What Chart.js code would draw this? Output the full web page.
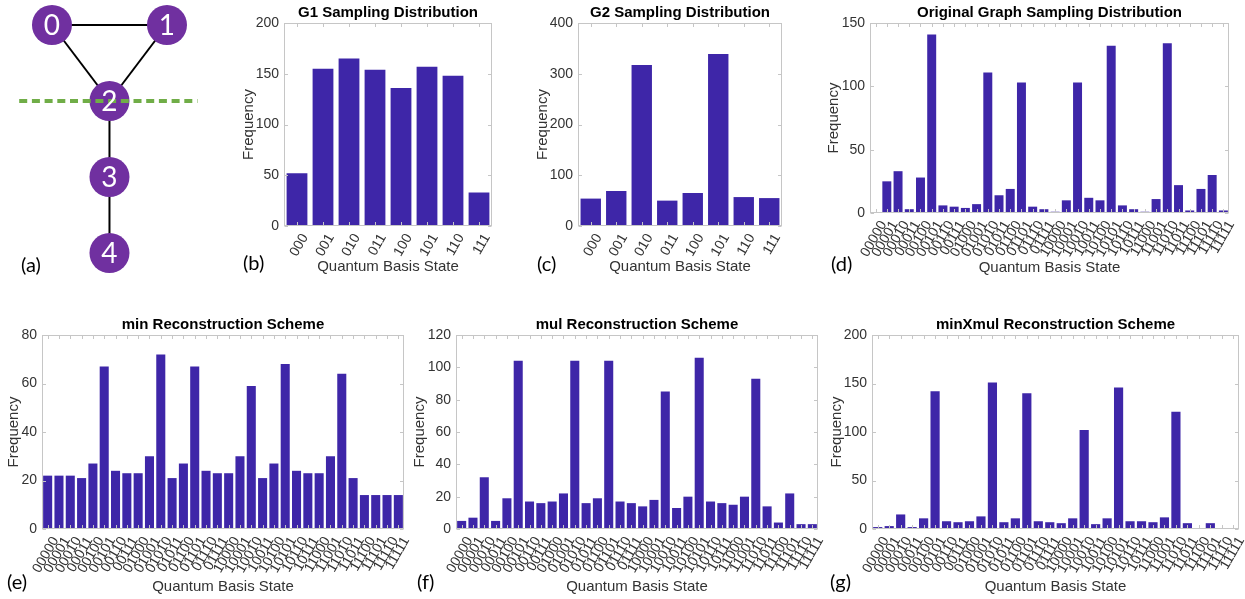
<!DOCTYPE html>
<html>
<head>
<meta charset="utf-8">
<script src="https://cdn.jsdelivr.net/npm/chart.js@4.4.1/dist/chart.umd.min.js"></script>
<style>
  html, body { margin: 0; padding: 0; background: #fff; }
  body { width: 1245px; height: 599px; position: relative; overflow: hidden; }
  canvas { position: absolute; }
  .tag { position: absolute; font-family: Lato, "Liberation Sans", sans-serif; font-size: 20px; line-height: 20px; color: #000; }
</style>
</head>
<body>
<canvas id="panelA" width="230" height="290" style="left:0;top:0"></canvas>
<canvas id="panelB" width="280" height="290" style="left:230px;top:0"></canvas>
<canvas id="panelC" width="285" height="290" style="left:515px;top:0"></canvas>
<canvas id="panelD" width="445" height="290" style="left:800px;top:0"></canvas>
<canvas id="panelE" width="415" height="299" style="left:0;top:300px"></canvas>
<canvas id="panelF" width="420" height="299" style="left:410px;top:300px"></canvas>
<canvas id="panelG" width="425" height="299" style="left:820px;top:300px"></canvas>

<div class="tag" style="left:21px;top:254px">(a)</div>
<div class="tag" style="left:243px;top:252px">(b)</div>
<div class="tag" style="left:537px;top:253px">(c)</div>
<div class="tag" style="left:831px;top:253px">(d)</div>
<div class="tag" style="left:7px;top:571px">(e)</div>
<div class="tag" style="left:417px;top:571px">(f)</div>
<div class="tag" style="left:830px;top:571px">(g)</div>

<script>
// ---- graph (a): node layout, edges and the cut line ----
const nodeNames = ['0', '1', '2', '3', '4'];
const nodeX = [-1, 1, 0, 0, 0];
const nodeY = [3, 3, 2, 1, 0];
const edges = [[0, 1], [0, 2], [1, 2], [2, 3], [3, 4]];
const cutX = [-1.57, 1.53];
const cutY = 2;

// ---- basis-state labels ----
const states3 = ['000', '001', '010', '011', '100', '101', '110', '111'];
const states5 = ['00000', '00001', '00010', '00011', '00100', '00101', '00110', '00111',
                 '01000', '01001', '01010', '01011', '01100', '01101', '01110', '01111',
                 '10000', '10001', '10010', '10011', '10100', '10101', '10110', '10111',
                 '11000', '11001', '11010', '11011', '11100', '11101', '11110', '11111'];

// ---- sampled frequencies ----
const g1Freq = [52, 155, 165, 154, 136, 157, 148, 33];
const g2Freq = [54, 69, 317, 50, 65, 339, 57, 55];
const originalFreq = [0, 25, 33, 3, 28, 141, 6, 5, 4, 7, 111, 14, 19, 103, 5, 3,
                      1, 10, 103, 12, 10, 132, 6, 3, 1, 11, 134, 22, 2, 19, 30, 2];
const minFreq = [22, 22, 22, 21, 27, 67, 24, 23, 23, 30, 72, 21, 27, 67, 24, 23,
                 23, 30, 59, 21, 27, 68, 24, 23, 23, 30, 64, 21, 14, 14, 14, 14];
const mulFreq = [5, 7, 32, 5, 19, 104, 17, 16, 17, 22, 104, 16, 19, 104, 17, 16,
                 14, 18, 85, 13, 20, 106, 17, 16, 15, 20, 93, 14, 4, 22, 3, 3];
const minXmulFreq = [2, 3, 15, 2, 11, 142, 8, 7, 8, 13, 151, 7, 11, 140, 8, 7,
                     6, 11, 102, 5, 11, 146, 8, 8, 7, 12, 121, 6, 1, 6, 1, 1];

// ---- y-axis ranges ----
const g1Axis = { max: 200, step: 50 };
const g2Axis = { max: 400, step: 100 };
const originalAxis = { max: 150, step: 50 };
const minAxis = { max: 80, step: 20 };
const mulAxis = { max: 120, step: 20 };
const minXmulAxis = { max: 200, step: 50 };

const FONT = "'Liberation Sans', Arial, Helvetica, sans-serif";
const BAR_COLOR = '#3E26A8';
const TEXT_COLOR = '#333333';
const BOX_COLOR = '#c6c6c6';

Chart.defaults.font.family = FONT;
Chart.defaults.animation = false;

// Axes box with inward ticks on all four sides
const axisBox = {
  id: 'axisBox',
  afterDatasetsDraw(chart) {
    const { ctx, chartArea: a, scales } = chart;
    const x = scales.x, y = scales.y;
    const L = Math.round(a.left) + 0.5, R = Math.round(a.right) - 0.5;
    const T = Math.round(a.top) + 0.5, B = Math.round(a.bottom) - 0.5;
    const len = 3.5;
    ctx.save();
    ctx.strokeStyle = BOX_COLOR;
    ctx.lineWidth = 1;
    ctx.strokeRect(L, T, R - L, B - T);
    ctx.beginPath();
    x.ticks.forEach((t, i) => {
      const px = Math.round(x.getPixelForTick(i)) + 0.5;
      ctx.moveTo(px, B); ctx.lineTo(px, B - len);
      ctx.moveTo(px, T); ctx.lineTo(px, T + len);
    });
    y.ticks.forEach(t => {
      const py = Math.round(y.getPixelForValue(t.value)) + 0.5;
      ctx.moveTo(L, py); ctx.lineTo(L + len, py);
      ctx.moveTo(R, py); ctx.lineTo(R - len, py);
    });
    ctx.stroke();
    ctx.restore();
  }
};

// Bar panel; box gives canvas frame, plot area and text anchor positions (page px)
function barPanel(id, labels, values, axis, title, box) {
  const half = 9; // half line height of 15px text
  const pl = box.yTitleX - half - box.cx;
  const pt = box.titleY - half - box.cy;
  const titlePadBottom = (box.t - box.cy) - pt - 18;
  const yWidth = box.l - box.cx - pl;
  const xHeight = (box.cy + box.ch) - box.b;
  const xTitlePad = (box.cy + box.ch) - half - box.xTitleY;
  const pr = (box.cx + box.cw) - box.r;

  new Chart(document.getElementById(id), {
    type: 'bar',
    data: {
      labels: labels,
      datasets: [{
        data: values,
        backgroundColor: BAR_COLOR,
        borderWidth: 0,
        barPercentage: 0.8,
        categoryPercentage: 1.0
      }]
    },
    options: {
      responsive: false,
      animation: false,
      layout: { padding: { left: pl, top: pt, right: pr, bottom: 0 } },
      plugins: {
        legend: { display: false },
        tooltip: { enabled: false },
        title: {
          display: true,
          text: title,
          fullSize: false,
          color: '#000',
          font: { size: 15, weight: 'bold', family: FONT, lineHeight: 1.2 },
          padding: { top: 0, bottom: titlePadBottom }
        }
      },
      scales: {
        x: {
          grid: { display: false, drawTicks: false },
          border: { display: false },
          ticks: {
            autoSkip: false,
            maxRotation: 60,
            minRotation: 60,
            padding: 5,
            labelOffset: 8,
            color: TEXT_COLOR,
            font: { size: 14, family: FONT }
          },
          title: {
            display: true,
            text: 'Quantum Basis State',
            color: TEXT_COLOR,
            font: { size: 15, family: FONT, lineHeight: 1.2 },
            padding: { top: 0, bottom: xTitlePad }
          },
          afterFit(s) { s.height = xHeight; s.paddingLeft = 0; s.paddingRight = 0; }
        },
        y: {
          min: 0,
          max: axis.max,
          grid: { display: false, drawTicks: false },
          border: { display: false },
          ticks: {
            stepSize: axis.step,
            padding: 5,
            color: TEXT_COLOR,
            font: { size: 14, family: FONT }
          },
          title: {
            display: true,
            text: 'Frequency',
            color: TEXT_COLOR,
            font: { size: 15, family: FONT, lineHeight: 1.2 },
            padding: { top: 0, bottom: 0 }
          },
          afterFit(s) { s.width = yWidth; s.paddingTop = 0; s.paddingBottom = 0; }
        }
      }
    },
    plugins: [axisBox]
  });
}

barPanel('panelB', states3, g1Freq, g1Axis, 'G1 Sampling Distribution',
  { cx: 230, cy: 0, cw: 280, ch: 290, l: 284, t: 23, r: 492, b: 226, yTitleX: 249, xTitleY: 267, titleY: 12.5 });
barPanel('panelC', states3, g2Freq, g2Axis, 'G2 Sampling Distribution',
  { cx: 515, cy: 0, cw: 285, ch: 290, l: 578, t: 23, r: 782, b: 226, yTitleX: 542.5, xTitleY: 267, titleY: 12.5 });
barPanel('panelD', states5, originalFreq, originalAxis, 'Original Graph Sampling Distribution',
  { cx: 800, cy: 0, cw: 445, ch: 290, l: 870, t: 23, r: 1229, b: 213, yTitleX: 834, xTitleY: 268, titleY: 12.5 });
barPanel('panelE', states5, minFreq, minAxis, 'min Reconstruction Scheme',
  { cx: 0, cy: 300, cw: 415, ch: 299, l: 42, t: 335, r: 404, b: 529, yTitleX: 13.5, xTitleY: 587, titleY: 325 });
barPanel('panelF', states5, mulFreq, mulAxis, 'mul Reconstruction Scheme',
  { cx: 410, cy: 300, cw: 420, ch: 299, l: 456, t: 335, r: 818, b: 529, yTitleX: 419.5, xTitleY: 587, titleY: 325 });
barPanel('panelG', states5, minXmulFreq, minXmulAxis, 'minXmul Reconstruction Scheme',
  { cx: 820, cy: 300, cw: 425, ch: 299, l: 872, t: 335, r: 1239, b: 529, yTitleX: 837, xTitleY: 587, titleY: 325 });

// ---- graph (a) ----
const nodeLabels = {
  id: 'nodeLabels',
  afterDatasetsDraw(chart) {
    const { ctx, scales: { x, y } } = chart;
    ctx.save();
    ctx.fillStyle = '#ffffff';
    ctx.font = "28px Lato, 'Liberation Sans', sans-serif";
    ctx.textAlign = 'center';
    ctx.textBaseline = 'middle';
    nodeNames.forEach((name, i) => {
      ctx.fillText(name, x.getPixelForValue(nodeX[i]), y.getPixelForValue(nodeY[i]) + 1);
    });
    ctx.restore();
  }
};

const graphSets = edges.map(([p, q]) => ({
  data: [{ x: nodeX[p], y: nodeY[p] }, { x: nodeX[q], y: nodeY[q] }],
  showLine: true,
  borderColor: '#000000',
  borderWidth: 2,
  pointRadius: 0,
  clip: false,
  order: 3
}));
graphSets.push({
  data: nodeX.map((v, i) => ({ x: v, y: nodeY[i] })),
  showLine: false,
  pointRadius: 20,
  pointBackgroundColor: '#7030A0',
  pointBorderWidth: 0,
  clip: false,
  order: 2
});
graphSets.push({
  data: [{ x: cutX[0], y: cutY }, { x: cutX[1], y: cutY }],
  showLine: true,
  borderColor: '#70AD47',
  borderWidth: 4,
  borderDash: [8, 4.7],
  borderCapStyle: 'butt',
  pointRadius: 0,
  clip: false,
  order: 1
});

new Chart(document.getElementById('panelA'), {
  type: 'scatter',
  data: { datasets: graphSets },
  options: {
    responsive: false,
    animation: false,
    layout: { padding: 0, autoPadding: false },
    plugins: { legend: { display: false }, tooltip: { enabled: false } },
    scales: {
      x: { type: 'linear', min: -1.904, max: 2.096, display: false },
      y: { type: 'linear', min: -0.487, max: 3.329, display: false }
    }
  },
  plugins: [nodeLabels]
});
</script>
</body>
</html>
